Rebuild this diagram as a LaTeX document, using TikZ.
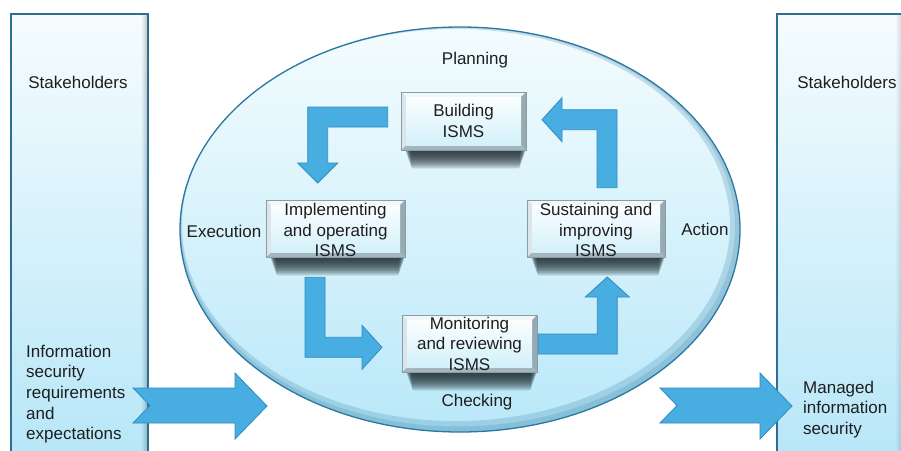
\documentclass[tikz,border=0pt]{standalone}
\usepackage{fontspec}
\setmainfont{Liberation Sans}
\usetikzlibrary{fadings,calc}
\definecolor{arrowfill}{HTML}{48ADE1}
\definecolor{arrowline}{HTML}{2F8CC2}
\definecolor{panelline}{HTML}{2D6F92}
\definecolor{paneltop}{HTML}{F6FCFE}
\definecolor{panelbot}{HTML}{B5E6F8}
\definecolor{ellline}{HTML}{2A78A2}
\definecolor{elltop}{HTML}{F4FCFE}
\definecolor{ellbot}{HTML}{B9E8F9}
\definecolor{txt}{HTML}{1E1E1E}
\definecolor{facetop}{HTML}{FBFEFF}
\definecolor{facebot}{HTML}{D3F0FA}
\definecolor{bevtop}{HTML}{F2F8FA}
\definecolor{bevleft}{HTML}{DAE6EA}
\definecolor{bevright}{HTML}{97AAB1}
\definecolor{bevbot}{HTML}{A3B6BD}
\definecolor{bevelline}{HTML}{8A9DA4}
\definecolor{shadowcol}{HTML}{1C2A30}
\pgfdeclarelayer{bg}
\pgfdeclarelayer{shadow}
\pgfsetlayers{bg,shadow,main}
\begin{document}
\begin{tikzpicture}[x=1pt,y=-1pt,
  lbl/.style={font=\fontsize{17}{20.7}\selectfont, text=txt, inner sep=0pt},
  boxtxt/.style={font=\fontsize{17}{20.5}\selectfont, text=txt, inner sep=0pt, align=center},
  blockarrow/.style={fill=arrowfill, draw=arrowline, line width=0.8pt, line join=miter},
  panel/.style={draw=panelline, line width=1.2pt, top color=paneltop, bottom color=panelbot},
  ismsbox/.style={draw=bevelline, line width=0.6pt, fill=bevleft, inner sep=0pt,
    path picture={
      \coordinate (pnw) at (path picture bounding box.north west);
      \coordinate (pne) at (path picture bounding box.north east);
      \coordinate (psw) at (path picture bounding box.south west);
      \coordinate (pse) at (path picture bounding box.south east);
      \coordinate (inw) at ([shift={(5pt,-5pt)}]pnw);
      \coordinate (ine) at ([shift={(-5pt,-5pt)}]pne);
      \coordinate (isw) at ([shift={(5pt,5pt)}]psw);
      \coordinate (ise) at ([shift={(-5pt,5pt)}]pse);
      \fill[bevtop] (pnw) -- (pne) -- (ine) -- (inw) -- cycle;
      \fill[bevright] (pne) -- (pse) -- (ise) -- (ine) -- cycle;
      \fill[bevbot] (psw) -- (pse) -- (ise) -- (isw) -- cycle;
      \fill[bevleft] (pnw) -- (psw) -- (isw) -- (inw) -- cycle;
      \fill[top color=facetop, bottom color=facebot] (inw) rectangle (ise);
    }},
]
\useasboundingbox (0,0) rectangle (901,450);
\clip (0,0) rectangle (901,450);

\begin{pgfonlayer}{bg}
  \fill[white] (0,0) rectangle (901,450);
  % stakeholder panels
  \path[panel] (11,14) rectangle (148,470);
  \fill[black, opacity=.22, path fading=west] (141,15) rectangle (147.4,470);
  \path[panel] (777,14) rectangle (920,470);
  \fill[black, opacity=.12, path fading=west] (895,15) rectangle (901,470);
  % ellipse
  \path[top color=elltop, bottom color=ellbot] (460,229.5) ellipse [x radius=280pt, y radius=202.5pt];
  \begin{scope}
    \clip (460,229.5) ellipse [x radius=280pt, y radius=202.5pt];
    \draw[line width=16pt, draw=ellline, opacity=.22] (456,225) ellipse [x radius=282pt, y radius=204pt];
    \draw[line width=6pt, draw=ellline, opacity=.18] (458,227) ellipse [x radius=280pt, y radius=202.5pt];
  \end{scope}
  \draw[ellline, line width=1.3pt] (460,229.5) ellipse [x radius=280pt, y radius=202.5pt];
\end{pgfonlayer}

% process boxes
\node[ismsbox, minimum width=125pt, minimum height=58pt] (build) at (463.5,121) {};
\node[ismsbox, minimum width=139pt, minimum height=57pt] (impl) at (335.5,228.5) {};
\node[ismsbox, minimum width=138pt, minimum height=57pt] (sus) at (596,228.5) {};
\node[ismsbox, minimum width=135pt, minimum height=57pt] (mon) at (469.5,343.5) {};

\node[boxtxt] (buildtxt) at (build) {Building\\ISMS};
\node[boxtxt] (impltxt) at ($(impl)+(0,1.5)$) {Implementing\\and operating\\ISMS};
\node[boxtxt] (sustxt) at ($(sus)+(0,1.5)$) {Sustaining and\\improving\\ISMS};
\node[boxtxt] (montxt) at (mon) {Monitoring\\and reviewing\\ISMS};

% soft drop shadows under the boxes: overlapping translucent strips
\begin{pgfonlayer}{shadow}
  \foreach \b in {build,impl,sus,mon}{
    \foreach \i [evaluate=\i as \yb using {2*\i}, evaluate=\i as \xa using {4+0.7*\i}, evaluate=\i as \xb using {-0.7*\i}] in {1,...,9}{
      \fill[shadowcol, opacity=0.2, rounded corners=2pt] ($(\b.south west)+(\xa,-3)$) rectangle ($(\b.south east)+(\xb,\yb)$);
    }
  }
\end{pgfonlayer}

% bent cycle arrows
\begin{scope}[shift={(build.west)}]
  \path[blockarrow] (-13,-14) -- (-93,-14) -- (-93,42) -- (-103,42) -- (-83,62)
    -- (-63,42) -- (-73,42) -- (-73,6) -- (-13,6) -- cycle;
\end{scope}
\begin{scope}[shift={(impl.south)}]
  \path[blockarrow] (-30.5,20) -- (-10.5,20) -- (-10.5,80) -- (26.5,80) -- (26.5,68)
    -- (46.5,90) -- (26.5,112) -- (26.5,100) -- (-30.5,100) -- cycle;
\end{scope}
\begin{scope}[shift={(mon.east)}]
  \path[blockarrow] (1,-9.5) -- (60,-9.5) -- (60,-46.5) -- (48,-46.5) -- (70,-66.5)
    -- (92,-46.5) -- (80,-46.5) -- (80,10.5) -- (1,10.5) -- cycle;
\end{scope}
\begin{scope}[shift={(sus.north)}]
  \path[blockarrow] (21,-12) -- (1,-12) -- (1,-70) -- (-34,-70) -- (-34,-58)
    -- (-54,-80) -- (-34,-102) -- (-34,-90) -- (21,-90) -- cycle;
\end{scope}

% input / output arrows
\path[blockarrow] (133,388) -- (235,388) -- (235,373) -- (267,406) -- (235,439)
  -- (235,423) -- (133,423) -- (150,405.5) -- cycle;
\path[blockarrow] (660,388) -- (760,388) -- (760,373) -- (792,406) -- (760,439)
  -- (760,423) -- (660,423) -- (677,405.5) -- cycle;

% labels
\node[lbl] (stakeL) at (78,82) {Stakeholders};
\node[lbl] (stakeR) at (847,82) {Stakeholders};
\node[lbl] (plan) at (475,60) {Planning};
\node[lbl] (check) at (477,402) {Checking};
\node[lbl] (exec) at (224,231) {Execution};
\node[lbl] (act) at (705,229) {Action};
\node[lbl, align=left, anchor=west] (inreq) at (26,394) {Information\\security\\requirements\\and\\expectations};
\node[lbl, align=left, anchor=west] (outsec) at (803,409.5) {Managed\\information\\security};
\end{tikzpicture}
\end{document}
